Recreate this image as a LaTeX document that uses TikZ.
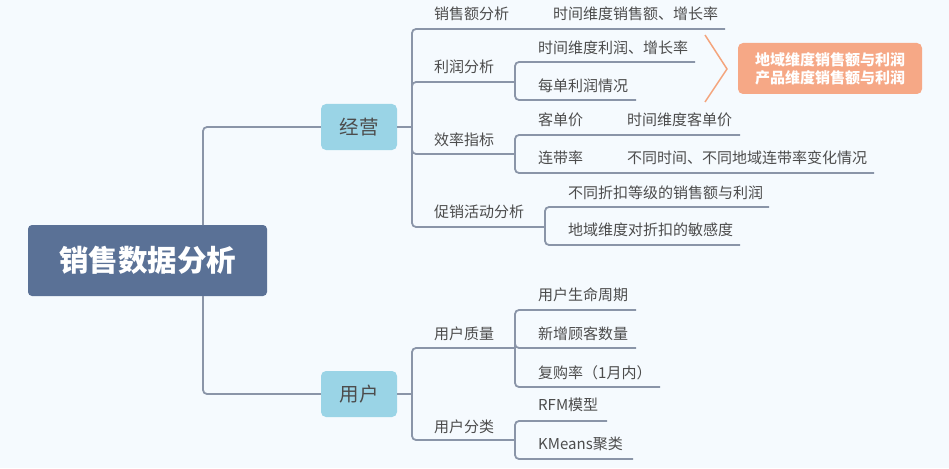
\documentclass[tikz,border=0pt]{standalone}
\usepackage{fontspec}
\newfontfamily\cjk{Noto Sans CJK SC}
\usetikzlibrary{positioning}
\definecolor{bgcol}{HTML}{F5FAFE}
\definecolor{rootcol}{HTML}{5A7196}
\definecolor{topiccol}{HTML}{9AD4E6}
\definecolor{linecol}{HTML}{8A95A8}
\definecolor{textcol}{HTML}{4C4C4C}
\definecolor{notecol}{HTML}{F6A886}
\definecolor{bracecol}{HTML}{F4A47C}

\begin{document}
\begin{tikzpicture}[x=1pt, y=-1pt,
    every node/.style={font=\cjk, text=textcol, inner sep=0pt},
    rootbox/.style={fill=rootcol, rounded corners=4pt, minimum width=239pt, minimum height=71pt,
        text=white, font=\cjk\bfseries\fontsize{29.5}{34}\selectfont},
    topicbox/.style={fill=topiccol, rounded corners=5pt, minimum width=76pt, minimum height=46pt,
        font=\cjk\fontsize{19.5}{22}\selectfont},
    notebox/.style={fill=notecol, rounded corners=5pt, minimum width=184pt, minimum height=51pt,
        text=white, align=center, font=\cjk\bfseries\fontsize{15}{18}\selectfont},
    item/.style={anchor=west, font=\cjk\fontsize{15}{17}\selectfont},
    link/.style={draw=linecol, line width=1.8pt, rounded corners=4pt}]
  \fill[bgcol] (0,0) rectangle (949,468);
  \useasboundingbox (0,0) rectangle (949,468);

  % main topics
  \node[rootbox] (root) at (147.5,260.5) {销售数据分析};
  \node[topicbox] (jy) at (359,127) {经营};
  \node[topicbox] (yh) at (359,394) {用户};
  \coordinate (rootup) at (203,225);
  \coordinate (rootdn) at (203,296);
  \draw[link] (rootup) |- (jy.west);
  \draw[link] (rootdn) |- (yh.west);

  % 经营
  \coordinate (jyhub) at (412,127);
  \draw[link] (jy.east) -- (jyhub);
  \node[item] (xse) at (434,14) {销售额分析};
  \node[item] (xsea) at (553,14) {时间维度销售额、增长率};
  \coordinate (xseend) at (725,29);
  \draw[link] (jyhub) |- (xseend);

  \node[item] (lr) at (434,67) {利润分析};
  \coordinate (lrhub) at (515,82);
  \draw[link] (jyhub) |- (lrhub);
  \node[item] (lra) at (538,48) {时间维度利润、增长率};
  \node[item] (lrb) at (538,86) {每单利润情况};
  \coordinate (lraend) at (695,62);
  \coordinate (lrbend) at (636,100);
  \draw[link] (lrhub) |- (lraend);
  \draw[link] (lrhub) |- (lrbend);

  \coordinate (bra) at (705,35);
  \coordinate (brb) at (727,69);
  \coordinate (brc) at (705,102);
  \draw[bracecol, line width=1.5pt] (bra) -- (brb) -- (brc);
  \node[notebox] (note) at (830,68.5) {地域维度销售额与利润\\产品维度销售额与利润};

  \node[item] (xl) at (434,140) {效率指标};
  \coordinate (xlhub) at (515,154);
  \draw[link] (jyhub) |- (xlhub);
  \node[item] (kdj) at (538,120) {客单价};
  \node[item] (kdja) at (627,120) {时间维度客单价};
  \node[item] (ldl) at (538,158) {连带率};
  \node[item] (ldla) at (627,158) {不同时间、不同地域连带率变化情况};
  \coordinate (kdjend) at (740,135);
  \coordinate (ldlend) at (874,173);
  \draw[link] (xlhub) |- (kdjend);
  \draw[link] (xlhub) |- (ldlend);

  \node[item] (cx) at (434,212) {促销活动分析};
  \coordinate (cxhub) at (545,227);
  \draw[link] (jyhub) |- (cxhub);
  \node[item] (cxa) at (568,193) {不同折扣等级的销售额与利润};
  \node[item] (cxb) at (568,230) {地域维度对折扣的敏感度};
  \coordinate (cxaend) at (769,207);
  \coordinate (cxbend) at (740,245);
  \draw[link] (cxhub) |- (cxaend);
  \draw[link] (cxhub) |- (cxbend);

  % 用户
  \coordinate (yhhub) at (412,394);
  \draw[link] (yh.east) -- (yhhub);
  \node[item] (zl) at (434,334) {用户质量};
  \coordinate (zlhub) at (515,348);
  \draw[link] (yhhub) |- (zlhub);
  \node[item] (zla) at (538,295) {用户生命周期};
  \node[item] (zlb) at (538,334) {新增顾客数量};
  \node[item] (zlc) at (538,373) {复购率（1月内）};
  \coordinate (zlaend) at (636,310);
  \coordinate (zlbend) at (636,348);
  \coordinate (zlcend) at (660,387);
  \draw[link] (zlhub) |- (zlaend);
  \draw[link] (zlhub) |- (zlbend);
  \draw[link] (zlhub) |- (zlcend);

  \node[item] (fl) at (434,427) {用户分类};
  \coordinate (flhub) at (515,440);
  \draw[link] (yhhub) |- (flhub);
  \node[item] (fla) at (538,405) {RFM模型};
  \node[item] (flb) at (538,444) {KMeans聚类};
  \coordinate (flaend) at (607,421);
  \coordinate (flbend) at (633,459);
  \draw[link] (flhub) |- (flaend);
  \draw[link] (flhub) |- (flbend);
\end{tikzpicture}
\end{document}
